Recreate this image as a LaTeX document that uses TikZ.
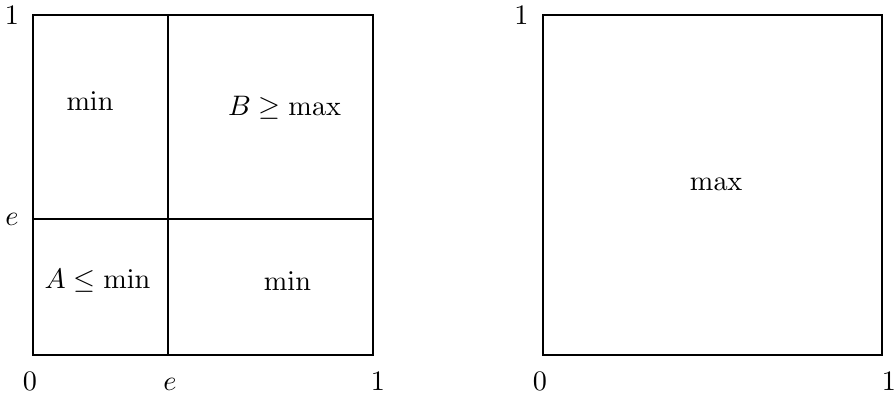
\documentclass[tikz,border=0pt]{standalone}
\usepackage{amsmath}
\begin{document}
\begin{tikzpicture}[x=0.3546pt,y=-0.3546pt,
  frame/.style={line width=0.55pt},
  lbl/.style={anchor=base,inner sep=0pt,font=\fontsize{10pt}{12pt}\selectfont}]
\useasboundingbox (0,0) rectangle (894,394);
% left square
\coordinate (LA) at (33,15);
\coordinate (LB) at (373,355);
\draw[frame] (LA) rectangle (LB);
\coordinate (vt) at (168,15);
\coordinate (vb) at (168,355);
\coordinate (hl) at (33,219);
\coordinate (hr) at (373,219);
\draw[frame] (vt) -- (vb);
\draw[frame] (hl) -- (hr);
% right square
\coordinate (RA) at (543,15);
\coordinate (RB) at (882,355);
\draw[frame] (RA) rectangle (RB);
% region labels
\node[lbl] (tlmin) at (90,110) {$\min$};
\node[lbl] (trB) at (284.5,115) {$B\geq\max$};
\node[lbl] (blA) at (97.5,288) {$A\leq\min$};
\node[lbl] (brmin) at (287.5,290) {$\min$};
\node[lbl] (rmax) at (716,190) {$\max$};
% axis labels left
\node[lbl] (ly1) at (12,24) {$1$};
\node[lbl] (lye) at (12,225) {$e$};
\node[lbl] (lx0) at (30,390) {$0$};
\node[lbl] (lxe) at (170,390) {$e$};
\node[lbl] (lx1) at (378,390) {$1$};
% axis labels right
\node[lbl] (ry1) at (521.5,24) {$1$};
\node[lbl] (rx0) at (540,390) {$0$};
\node[lbl] (rx1) at (889,390) {$1$};
\end{tikzpicture}
\end{document}
